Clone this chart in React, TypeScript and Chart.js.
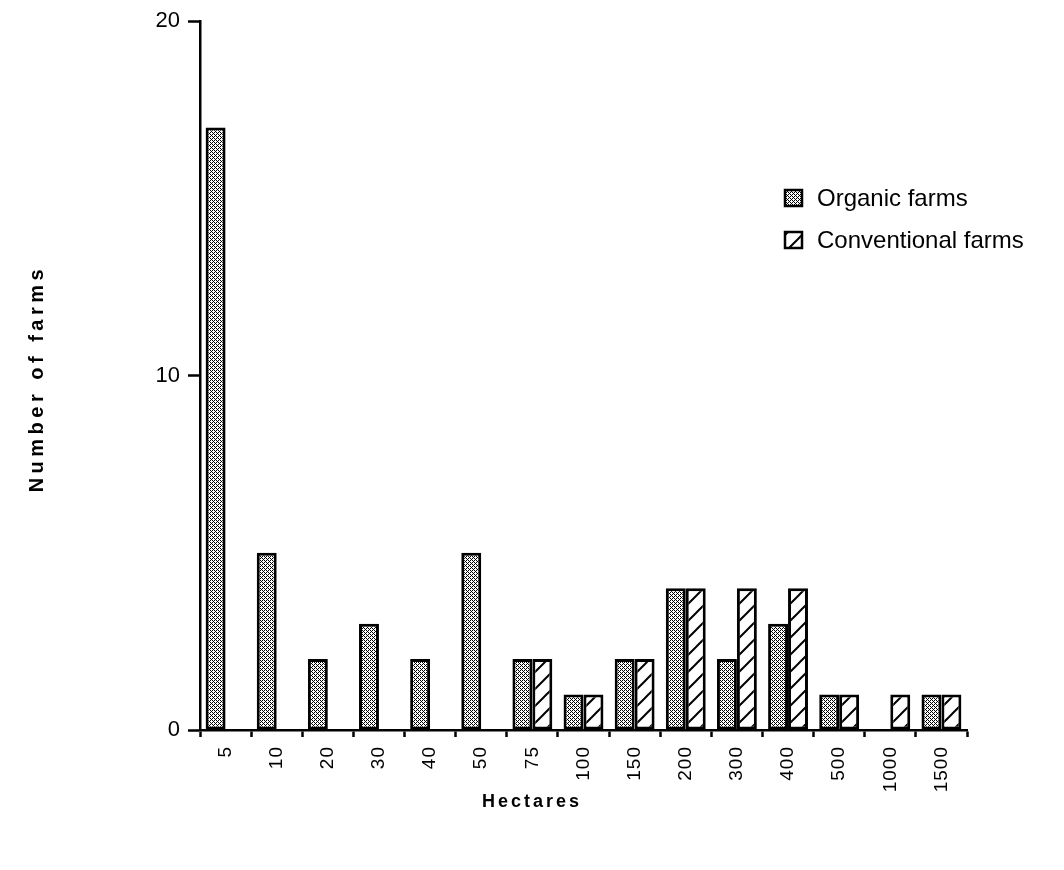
import React, { useEffect, useRef } from "react";
import { Chart, registerables } from "chart.js";

Chart.register(...registerables);

const categories = ["5", "10", "20", "30", "40", "50", "75", "100", "150", "200", "300", "400", "500", "1000", "1500"];
const organicFarms = [17, 5, 2, 3, 2, 5, 2, 1, 2, 4, 2, 3, 1, 0, 1];
const conventionalFarms = [0, 0, 0, 0, 0, 0, 2, 1, 2, 4, 4, 4, 1, 1, 1];
const seriesLabels = ["Organic farms", "Conventional farms"];
const yTicks = [0, 10, 20];
const xTitle = "Hectares";
const yTitle = "Number of farms";

const FONT = "'Liberation Sans', Arial, Helvetica, sans-serif";

function makeDots(): CanvasPattern | string {
  const c = document.createElement("canvas");
  c.width = 4;
  c.height = 4;
  const g = c.getContext("2d");
  if (!g) return "#999";
  g.fillStyle = "#ffffff";
  g.fillRect(0, 0, 4, 4);
  g.fillStyle = "#000000";
  const pts = [
    [0, 0], [2, 0],
    [1, 1],
    [0, 2], [2, 2],
    [3, 3],
  ];
  for (const [x, y] of pts) g.fillRect(x, y, 1, 1);
  const p = g.createPattern(c, "repeat");
  return p || "#999";
}

function makeHatch(): CanvasPattern | string {
  const s = 17;
  const c = document.createElement("canvas");
  c.width = s;
  c.height = s;
  const g = c.getContext("2d");
  if (!g) return "#fff";
  g.fillStyle = "#ffffff";
  g.fillRect(0, 0, s, s);
  g.strokeStyle = "#000000";
  g.lineWidth = 2;
  g.beginPath();
  g.moveTo(-2, s + 2);
  g.lineTo(s + 2, -2);
  g.moveTo(-2, 2);
  g.lineTo(2, -2);
  g.moveTo(s - 2, s + 2);
  g.lineTo(s + 2, s - 2);
  g.stroke();
  const p = g.createPattern(c, "repeat");
  return p || "#fff";
}

export default function App() {
  const ref = useRef<HTMLCanvasElement | null>(null);

  useEffect(() => {
    const canvas = ref.current;
    if (!canvas) return;
    const dots = makeDots();
    const hatch = makeHatch();
    const fills = [dots, hatch];

    const decorPlugin = {
      id: "decor",
      afterLayout(chart: any) {
        const sx = chart.scales.x;
        if (sx && !sx.__spaced) {
          const orig = sx.drawLabels.bind(sx);
          sx.drawLabels = (a: any) => {
            const ctx = chart.ctx as any;
            ctx.save();
            ctx.letterSpacing = "1px";
            orig(a);
            ctx.restore();
          };
          sx.__spaced = true;
        }
      },
      afterDraw(chart: any) {
        const ctx = chart.ctx as CanvasRenderingContext2D;
        const area = chart.chartArea;
        ctx.save();
        ctx.fillStyle = "#000";
        ctx.textBaseline = "middle";
        ctx.textAlign = "center";
        // x title
        ctx.font = `bold 18px ${FONT}`;
        (ctx as any).letterSpacing = "3px";
        ctx.fillText(xTitle, 532, 802);
        // y title
        ctx.font = `bold 20px ${FONT}`;
        (ctx as any).letterSpacing = "4.5px";
        ctx.save();
        ctx.translate(37, (area.top + area.bottom) / 2 + 3);
        ctx.rotate(-Math.PI / 2);
        ctx.fillText(yTitle, 0, 0);
        ctx.restore();
        (ctx as any).letterSpacing = "0px";
        // legend
        const lx = 785;
        const ly = [190, 232];
        ctx.font = `24px ${FONT}`;
        ctx.textAlign = "left";
        for (let i = 0; i < seriesLabels.length; i++) {
          ctx.fillStyle = fills[i] as any;
          ctx.fillRect(lx, ly[i], 17, 16);
          ctx.strokeStyle = "#000";
          ctx.lineWidth = 2.5;
          ctx.strokeRect(lx, ly[i], 17, 16);
          ctx.fillStyle = "#000";
          ctx.fillText(seriesLabels[i], 817, ly[i] + 9);
        }
        ctx.restore();
      },
    };

    const chart = new Chart(canvas, {
      type: "bar",
      data: {
        labels: categories,
        datasets: [
          {
            label: seriesLabels[0],
            data: organicFarms,
            backgroundColor: dots as any,
            borderColor: "#000",
            borderWidth: 3,
            borderSkipped: false,
          },
          {
            label: seriesLabels[1],
            data: conventionalFarms,
            backgroundColor: hatch as any,
            borderColor: "#000",
            borderWidth: 3,
            borderSkipped: false,
          },
        ],
      },
      options: {
        responsive: false,
        animation: false,
        devicePixelRatio: 1,
        layout: { padding: { top: 20, right: 97, left: 0, bottom: 0 } },
        datasets: { bar: { categoryPercentage: 0.78, barPercentage: 1.0 } },
        plugins: {
          legend: { display: false },
          tooltip: { enabled: false },
          title: { display: false },
        },
        scales: {
          x: {
            offset: true,
            grid: {
              offset: true,
              drawOnChartArea: false,
              drawTicks: true,
              tickLength: 7,
              tickWidth: 2.5,
              tickColor: "#000",
            },
            border: { display: true, color: "#000", width: 2.5 },
            ticks: {
              color: "#000",
              font: { family: FONT, size: 19 },
              minRotation: 90,
              maxRotation: 90,
              padding: 9,
              autoSkip: false,
            },
            afterFit: (s: any) => {
              s.height = 140;
            },
          },
          y: {
            min: 0,
            max: 20,
            afterBuildTicks: (s: any) => {
              s.ticks = yTicks.map((v) => ({ value: v }));
            },
            grid: {
              drawOnChartArea: false,
              drawTicks: true,
              tickLength: 12,
              tickWidth: 2.5,
              tickColor: "#000",
            },
            border: { display: true, color: "#000", width: 2.5 },
            ticks: {
              color: "#000",
              font: { family: FONT, size: 22 },
              padding: 8,
            },
            afterFit: (s: any) => {
              s.width = 200;
            },
          },
        },
      },
      plugins: [decorPlugin],
    });

    return () => {
      chart.destroy();
    };
  }, []);

  return (
    <div style={{ position: "absolute", left: 0, top: 0, width: 1064, height: 870, background: "#fff" }}>
      <canvas ref={ref} width={1064} height={870} style={{ width: 1064, height: 870, display: "block" }} />
    </div>
  );
}
